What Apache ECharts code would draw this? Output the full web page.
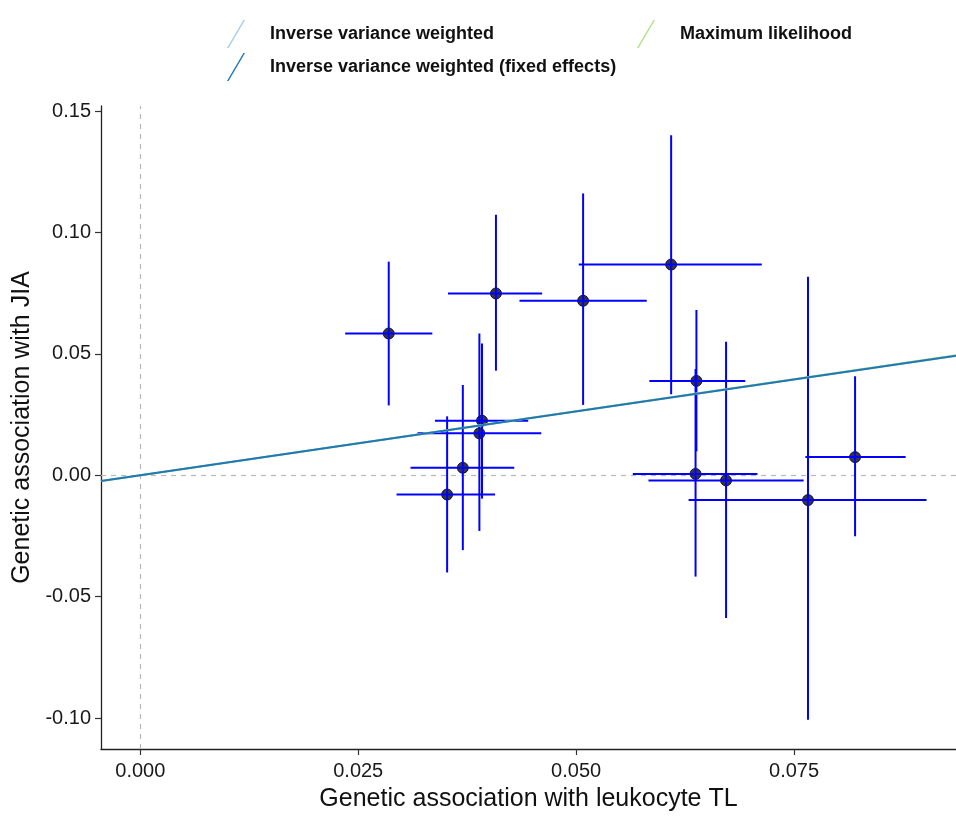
<!DOCTYPE html>
<html>
<head>
<meta charset="utf-8">
<script src="https://cdn.jsdelivr.net/npm/echarts@6/dist/echarts.min.js"></script>
<style>
html,body{margin:0;padding:0;background:#fff;}
#chart{width:956px;height:817px;}
</style>
</head>
<body>
<div id="chart"></div>
<script>
// SNP-level estimates
const snpX   = [0.0285, 0.0408, 0.0508, 0.0609, 0.0392, 0.0389, 0.0370, 0.0352, 0.0638, 0.0637, 0.0672, 0.0766, 0.0820];
const snpY   = [0.0584, 0.0749, 0.0719, 0.0868, 0.0225, 0.0173, 0.0031, -0.0079, 0.0389, 0.0006, -0.0021, -0.0102, 0.0075];
const snpXLo = [0.0235, 0.0353, 0.0435, 0.0503, 0.0338, 0.0318, 0.0310, 0.0294, 0.0584, 0.0565, 0.0583, 0.0629, 0.0763];
const snpXHi = [0.0335, 0.0461, 0.0581, 0.0713, 0.0445, 0.0460, 0.0429, 0.0407, 0.0694, 0.0708, 0.0761, 0.0902, 0.0878];
const snpYLo = [0.0288, 0.0431, 0.0290, 0.0334, -0.0096, -0.0229, -0.0308, -0.0400, 0.0099, -0.0417, -0.0588, -0.1007, -0.0251];
const snpYHi = [0.0880, 0.1073, 0.1161, 0.1401, 0.0543, 0.0584, 0.0372, 0.0243, 0.0681, 0.0438, 0.0550, 0.0818, 0.0408];

// Method estimates (slopes through origin)
const methods = ['Inverse variance weighted', 'Inverse variance weighted (fixed effects)', 'Maximum likelihood'];
const slopes  = [0.526, 0.526, 0.528];
const methodColors = ['#a6cee3', '#1f78b4', '#b2df8a'];
const methodZ = [5, 7, 6];

// Axis ticks
const xTicks = [0, 0.025, 0.05, 0.075];
const yTicks = [-0.10, -0.05, 0.00, 0.05, 0.10, 0.15];

const X_MIN = -0.00451, X_MAX = 0.09358;
const Y_MIN = -0.1127, Y_MAX = 0.1521;

const barData = snpX.map((x, i) => [x, snpY[i], snpXLo[i], snpXHi[i], snpYLo[i], snpYHi[i]]);
const pointData = snpX.map((x, i) => [x, snpY[i]]);

const lineSeries = methods.map((m, k) => ({
  name: m,
  type: 'line',
  data: [[X_MIN, slopes[k] * X_MIN], [X_MAX, slopes[k] * X_MAX]],
  showSymbol: false,
  symbol: 'none',
  lineStyle: { color: methodColors[k], width: 2 },
  itemStyle: { color: methodColors[k] },
  z: methodZ[k],
  silent: true,
  animation: false
}));

const icon = 'path://M0,28 L1.6,28 L18,0 L16.4,0 Z';
const legendText = { fontFamily: 'Liberation Sans, Arial', fontWeight: 'bold', fontSize: 18, color: '#111', padding: [0, 0, 0, 20] };

const chart = echarts.init(document.getElementById('chart'), null, { renderer: 'canvas' });
chart.setOption({
  animation: false,
  backgroundColor: '#ffffff',
  grid: { left: 101, right: 0, top: 106, bottom: 65, containLabel: false },
  legend: [
    {
      data: [methods[0], methods[1]],
      orient: 'vertical',
      left: 222, top: 15,
      itemWidth: 18, itemHeight: 28, itemGap: 5,
      icon: icon,
      textStyle: legendText,
      selectedMode: false
    },
    {
      data: [methods[2]],
      orient: 'vertical',
      left: 632, top: 15,
      itemWidth: 18, itemHeight: 28, itemGap: 5,
      icon: icon,
      textStyle: legendText,
      selectedMode: false
    }
  ],
  xAxis: {
    type: 'value',
    min: X_MIN, max: X_MAX,
    name: 'Genetic association with leukocyte TL',
    nameLocation: 'middle',
    nameGap: 38,
    nameTextStyle: { fontFamily: 'Liberation Sans, Arial', fontSize: 25, color: '#111' },
    axisLine: { show: true, onZero: false, lineStyle: { color: '#222', width: 1.3 } },
    axisTick: { show: true, length: 6, customValues: xTicks, lineStyle: { color: '#333', width: 1.2 } },
    axisLabel: { customValues: xTicks, margin: 12, formatter: v => v.toFixed(3), fontFamily: 'Liberation Sans, Arial', fontSize: 20, color: '#1a1a1a' },
    splitLine: { show: false }
  },
  yAxis: {
    type: 'value',
    min: Y_MIN, max: Y_MAX,
    name: 'Genetic association with JIA',
    nameLocation: 'middle',
    nameGap: 58,
    nameRotate: 90,
    nameTextStyle: { fontFamily: 'Liberation Sans, Arial', fontSize: 25, color: '#111' },
    axisLine: { show: true, onZero: false, lineStyle: { color: '#222', width: 1.3 } },
    axisTick: { show: true, length: 6, customValues: yTicks, lineStyle: { color: '#333', width: 1.2 } },
    axisLabel: { customValues: yTicks, margin: 10, formatter: v => v.toFixed(2), fontFamily: 'Liberation Sans, Arial', fontSize: 20, color: '#1a1a1a' },
    splitLine: { show: false }
  },
  series: [
    {
      type: 'scatter',
      data: pointData,
      symbol: 'circle',
      symbolSize: 11,
      itemStyle: { color: '#03031a', borderColor: '#000', borderWidth: 1 },
      z: 2,
      silent: true,
      markLine: {
        silent: true,
        symbol: 'none',
        label: { show: false },
        lineStyle: { color: '#b8b8b8', type: [5, 5], width: 1.2 },
        data: [{ xAxis: 0 }, { yAxis: 0 }],
        z: 1
      }
    },
    {
      type: 'custom',
      data: barData,
      encode: { x: [0, 2, 3], y: [1, 4, 5] },
      z: 3,
      silent: true,
      renderItem: function (params, api) {
        const l = api.coord([api.value(2), api.value(1)]);
        const r = api.coord([api.value(3), api.value(1)]);
        const lo = api.coord([api.value(0), api.value(4)]);
        const hi = api.coord([api.value(0), api.value(5)]);
        const st = { stroke: '#0000ff', lineWidth: 2 };
        return {
          type: 'group',
          children: [
            { type: 'line', shape: { x1: lo[0], y1: lo[1], x2: hi[0], y2: hi[1] }, style: st },
            { type: 'line', shape: { x1: l[0], y1: l[1], x2: r[0], y2: r[1] }, style: st }
          ]
        };
      }
    }
  ].concat(lineSeries)
});
</script>
</body>
</html>
